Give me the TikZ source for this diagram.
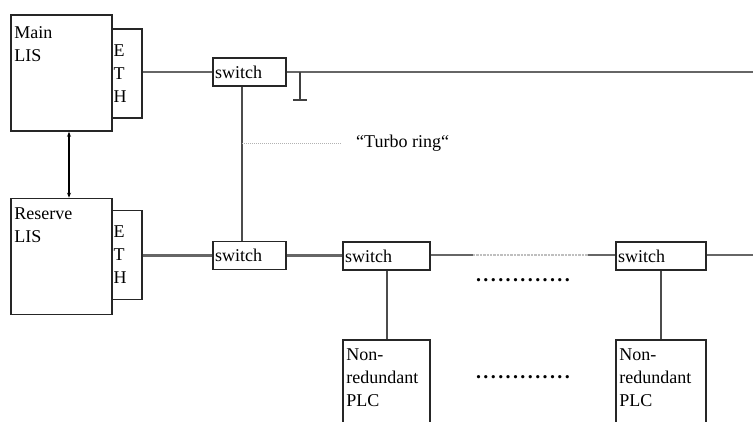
\documentclass[tikz,border=0pt]{standalone}
\usepackage{fontspec}
\setmainfont{Liberation Serif}
\usetikzlibrary{positioning, arrows.meta, calc}

\begin{document}
\begin{tikzpicture}[
    x=1pt, y=-1pt,
    every node/.style={font=\fontsize{18}{23}\selectfont},
    lis/.style={rectangle, draw=black!85, line width=1.6pt,
                minimum width=101pt, minimum height=116pt, inner sep=0pt},
    eth/.style={rectangle, draw=black!85, line width=1.6pt,
                minimum width=30pt, minimum height=89pt,
                text width=27pt, inner xsep=1.5pt, align=left},
    sw/.style={rectangle, draw=black!85, line width=1.6pt,
               minimum height=28pt, inner xsep=2pt, inner ysep=0pt,
               align=left},
    plc/.style={rectangle, draw=black!85, line width=1.6pt,
                minimum height=120pt, inner sep=0pt, anchor=north},
    boxtext/.style={anchor=north west, inner sep=0pt, align=left,
                    xshift=4pt, yshift=-10pt},
    bus/.style={draw=black!60, line width=2.6pt},
    link/.style={draw=black!70, line width=2pt},
    dotrow/.style={inner sep=0pt,
                   font=\fontsize{20}{23}\selectfont\bfseries\addfontfeature{LetterSpace=12}},
    ]

    \path[use as bounding box, clip] (0,0) rectangle (753,421);

    % control systems
    \node[lis, label={[boxtext, yshift=-2pt]north west:{Main\\LIS}}] (main) at (61.5,73) {};
    \node[eth] (maineth) at (127,73.5) {E\\T\\H};
    \node[lis, label={[boxtext]north west:{Reserve\\LIS}}] (reserve) at (61.5,256.5) {};
    \node[eth] (reseth) at (127,255) {E\\T\\H};

    % switches
    \node[sw, text width=69pt] (sw1) at (249.5,72) {switch};
    \node[sw, text width=69pt] (sw2) at (249.5,255.5) {switch};
    \node[sw, text width=83pt] (sw3) at (386.5,256) {switch};
    \node[sw, text width=86pt] (sw4) at (661,256) {switch};

    % PLCs
    \node[plc, minimum width=87pt,
          label={[boxtext]north west:{Non-\\redundant\\PLC}}] (plc1) at (386.5,339) {};
    \node[plc, minimum width=90pt,
          label={[boxtext]north west:{Non-\\redundant\\PLC}}] (plc2) at (661,339) {};

    \node[anchor=west, inner sep=0pt] (ring) at (356,143) {“Turbo ring“};
    \node[dotrow] (dots1) at (523,280) {.............};
    \node[dotrow] (dots2) at (523,377) {.............};

    \coordinate (topend) at (753,72);
    \coordinate (lowend) at (753,255);
    \coordinate (gapL) at (473,255);
    \coordinate (gapR) at (588,255);
    \coordinate (ringend) at (341,143);
    \coordinate (term) at (300,100);

    % network
    \draw[bus] (maineth.east |- sw1.west) -- (sw1.west);
    \draw[bus] (sw1.east) -- (topend);
    \draw[bus] (reseth.east |- sw2.west) -- (sw2.west);
    \draw[bus] (sw2.east) -- (sw3.west |- sw2.east);
    \draw[bus] (sw3.east |- gapL) -- (gapL);
    \draw[draw=black!25, line width=2.4pt, densely dotted] (gapL) -- (gapR);
    \draw[bus] (gapR) -- (sw4.west |- gapR);
    \draw[bus] (sw4.east |- lowend) -- (lowend);
    \draw[link] ([xshift=-7.5pt]sw1.south) -- ([xshift=-7.5pt]sw2.north);
    \draw[link] (sw3.south) -- (plc1.north);
    \draw[link] (sw4.south) -- (plc2.north);

    % terminator
    \draw[draw=black!75, line width=1.6pt] (term |- topend) -- (term)
        ([xshift=-7pt]term) -- ([xshift=7pt]term);

    \draw[draw=black!30, line width=1pt, densely dotted]
        ([xshift=-7.5pt]sw1.south |- ring.west) -- (ringend);

    \draw[{Stealth[length=5pt,width=4pt]}-{Stealth[length=5pt,width=4pt]}, line width=2.6pt]
        ([xshift=7.5pt]main.south) -- ([xshift=7.5pt]reserve.north);

\end{tikzpicture}
\end{document}
